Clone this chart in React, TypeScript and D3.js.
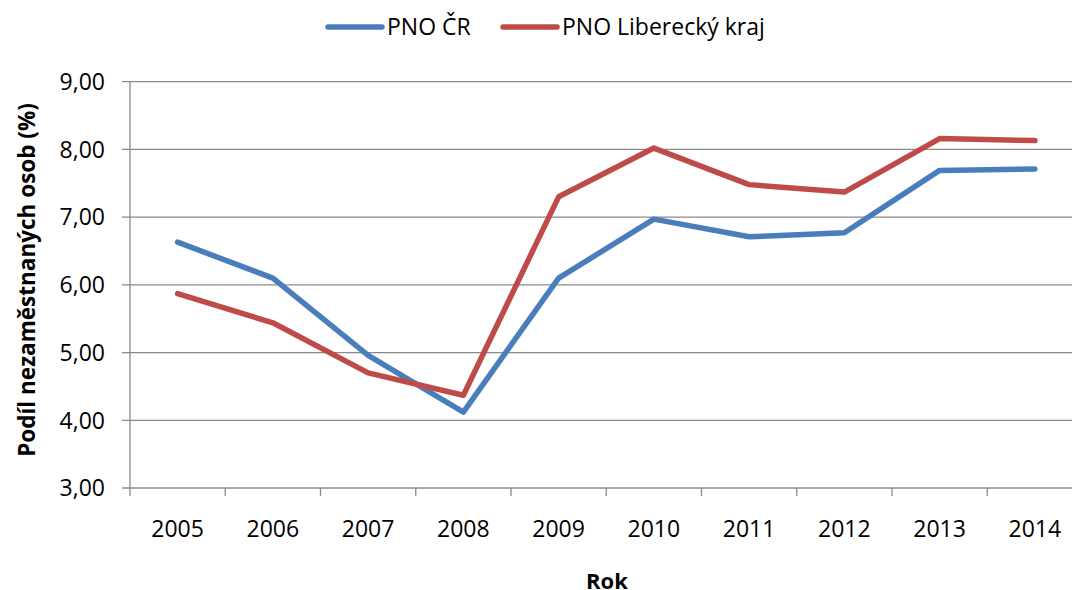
import { useEffect, useRef } from "react";
import * as d3 from "d3";

const years = ["2005", "2006", "2007", "2008", "2009", "2010", "2011", "2012", "2013", "2014"];
const pnoCR = [6.63, 6.1, 4.96, 4.12, 6.1, 6.97, 6.71, 6.77, 7.69, 7.71];
const pnoLiberec = [5.87, 5.44, 4.7, 4.37, 7.3, 8.02, 7.48, 7.37, 8.16, 8.13];
const seriesNames = ["PNO ČR", "PNO Liberecký kraj"];
const colors = ["#4A7EBB", "#BE4B48"];
const yTicks = [3, 4, 5, 6, 7, 8, 9];

const App = () => {
  const ref = useRef<SVGSVGElement>(null);

  useEffect(() => {
    const width = 1072;
    const height = 590;
    const marginTop = 81.7;
    const marginLeft = 130;
    const marginBottom = 102;
    const plotRight = 1082.5;
    const font = "'Open Sans', Lato, sans-serif";
    const gridColor = "#8a8a8a";

    const x = d3.scaleBand().domain(years).range([marginLeft, plotRight]);
    const y = d3.scaleLinear().domain([3, 9]).range([height - marginBottom, marginTop]);

    const svg = d3.select(ref.current);
    svg.selectAll("*").remove();
    svg.attr("width", width).attr("height", height).attr("viewBox", [0, 0, width, height]);

    svg.append("rect").attr("width", width).attr("height", height).attr("fill", "white");

    // gridlines + y ticks
    const gy = svg.append("g");
    gy.selectAll("line")
      .data(yTicks)
      .join("line")
      .attr("x1", marginLeft - 8)
      .attr("x2", plotRight)
      .attr("y1", (d) => y(d))
      .attr("y2", (d) => y(d))
      .attr("stroke", gridColor)
      .attr("stroke-width", 1.3);
    gy.selectAll("text")
      .data(yTicks)
      .join("text")
      .attr("x", 105)
      .attr("y", (d) => y(d))
      .attr("dy", "0.36em")
      .attr("text-anchor", "end")
      .attr("font-family", font)
      .attr("font-size", 23)
      .attr("fill", "#000")
      .text((d) => d3.format(".2f")(d).replace(".", ","));

    // y axis line
    svg.append("line")
      .attr("x1", marginLeft)
      .attr("x2", marginLeft)
      .attr("y1", y(9))
      .attr("y2", y(3))
      .attr("stroke", gridColor)
      .attr("stroke-width", 1.3);

    // x ticks between categories
    svg.append("g")
      .selectAll("line")
      .data(years)
      .join("line")
      .attr("x1", (d) => x(d)!)
      .attr("x2", (d) => x(d)!)
      .attr("y1", y(3))
      .attr("y2", y(3) + 8)
      .attr("stroke", gridColor)
      .attr("stroke-width", 1.3);

    svg.append("g")
      .selectAll("text")
      .data(years)
      .join("text")
      .attr("x", (d) => x(d)! + x.bandwidth() / 2)
      .attr("y", 537)
      .attr("text-anchor", "middle")
      .attr("font-family", font)
      .attr("font-size", 23)
      .attr("fill", "#000")
      .text((d) => d);

    // axis titles
    svg.append("text")
      .attr("transform", `translate(35,280) rotate(-90)`)
      .attr("text-anchor", "middle")
      .attr("font-family", font)
      .attr("font-size", 22.5)
      .attr("font-weight", "bold")
      .attr("fill", "#000")
      .text("Podíl nezaměstnaných osob (%)");

    svg.append("text")
      .attr("x", 607)
      .attr("y", 589)
      .attr("text-anchor", "middle")
      .attr("font-family", font)
      .attr("font-size", 22)
      .attr("font-weight", "bold")
      .attr("fill", "#000")
      .text("Rok");

    // lines
    const line = d3
      .line<number>()
      .x((_, i) => x(years[i])! + x.bandwidth() / 2)
      .y((d) => y(d));

    [pnoCR, pnoLiberec].forEach((values, i) => {
      svg.append("path")
        .attr("d", line(values))
        .attr("fill", "none")
        .attr("stroke", colors[i])
        .attr("stroke-width", 5.5)
        .attr("stroke-linejoin", "round")
        .attr("stroke-linecap", "round");
    });

    // legend
    const legendX = [328, 503];
    const legend = svg.append("g");
    seriesNames.forEach((name, i) => {
      legend.append("line")
        .attr("x1", legendX[i])
        .attr("x2", legendX[i] + 54)
        .attr("y1", 27)
        .attr("y2", 27)
        .attr("stroke", colors[i])
        .attr("stroke-width", 5.5)
        .attr("stroke-linecap", "round");
      legend.append("text")
        .attr("x", legendX[i] + 59)
        .attr("y", 35)
        .attr("font-family", font)
        .attr("font-size", 23)
        .attr("fill", "#000")
        .text(name);
    });
  }, []);

  return <svg ref={ref} style={{ position: "absolute", left: 0, top: 0 }}></svg>;
};

export default App;
